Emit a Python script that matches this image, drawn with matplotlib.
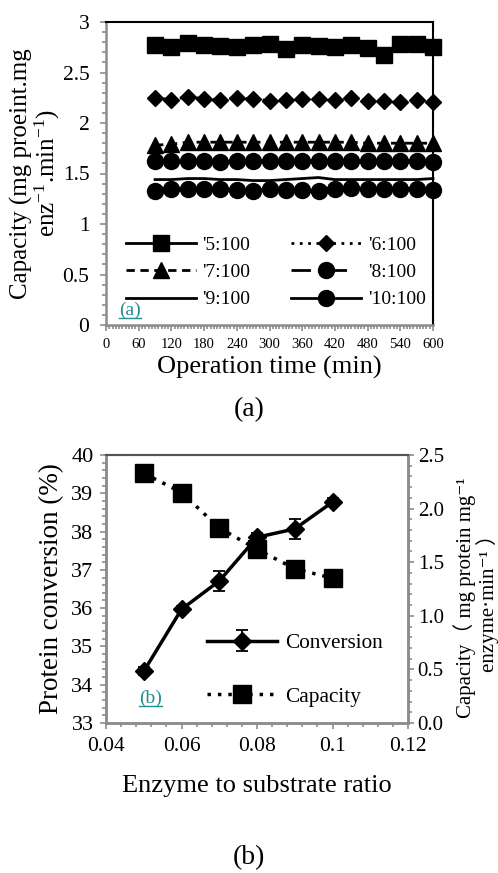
import matplotlib
matplotlib.use("Agg")
import matplotlib.pyplot as plt
from matplotlib.lines import Line2D
from matplotlib.ticker import MultipleLocator

plt.rcParams['font.family'] = ['Liberation Serif', 'Noto Sans CJK SC', 'DejaVu Sans']
plt.rcParams['mathtext.fontset'] = 'custom'
plt.rcParams['mathtext.rm'] = 'Liberation Serif'
plt.rcParams['mathtext.it'] = 'Liberation Serif:italic'
plt.rcParams['mathtext.bf'] = 'Liberation Serif:bold'

# ---------------- data (a) ----------------
time_min = [90, 120, 150, 180, 210, 240, 270, 300, 330, 360, 390, 420, 450, 480, 510, 540, 570, 600]
cap_5 = [2.77, 2.75, 2.79, 2.77, 2.76, 2.75, 2.77, 2.78, 2.73, 2.77, 2.76, 2.75, 2.77, 2.74, 2.67, 2.78, 2.78, 2.75]
cap_6 = [2.25, 2.23, 2.26, 2.24, 2.23, 2.25, 2.24, 2.22, 2.23, 2.24, 2.24, 2.23, 2.25, 2.22, 2.22, 2.21, 2.23, 2.21]
cap_7 = [1.78, 1.79, 1.81, 1.81, 1.81, 1.81, 1.81, 1.81, 1.81, 1.81, 1.81, 1.81, 1.81, 1.80, 1.80, 1.80, 1.80, 1.80]
cap_8 = [1.62, 1.62, 1.62, 1.62, 1.61, 1.62, 1.62, 1.62, 1.62, 1.62, 1.62, 1.62, 1.62, 1.62, 1.62, 1.62, 1.62, 1.61]
cap_9 = [1.44, 1.44, 1.45, 1.45, 1.44, 1.44, 1.43, 1.43, 1.44, 1.45, 1.46, 1.44, 1.44, 1.44, 1.44, 1.44, 1.44, 1.45]
cap_10 = [1.33, 1.35, 1.35, 1.35, 1.35, 1.34, 1.33, 1.35, 1.34, 1.34, 1.33, 1.35, 1.36, 1.35, 1.35, 1.35, 1.35, 1.34]
labels_a = ["'5:100", "'6:100", "'7:100", "'8:100", "'9:100", "'10:100"]
xticks_a = [0, 60, 120, 180, 240, 300, 360, 420, 480, 540, 600]
yticks_a = [0, 0.5, 1, 1.5, 2, 2.5, 3]
ytick_labels_a = ["0", "0.5", "1", "1.5", "2", "2.5", "3"]

# ---------------- data (b) ----------------
ratio = [0.05, 0.06, 0.07, 0.08, 0.09, 0.10]
conversion = [34.35, 35.97, 36.71, 37.85, 38.07, 38.77]
conversion_err = [0.10, 0.08, 0.25, 0.10, 0.26, 0.10]
capacity_b = [2.33, 2.15, 1.82, 1.62, 1.44, 1.35]
labels_b = ["Conversion", "Capacity"]
xticks_b = [0.04, 0.06, 0.08, 0.10, 0.12]
xtick_labels_b = ["0.04", "0.06", "0.08", "0.1", "0.12"]
yticks_b = [33, 34, 35, 36, 37, 38, 39, 40]
yticks_b2 = [0.0, 0.5, 1.0, 1.5, 2.0, 2.5]
ytick_labels_b2 = ["0.0", "0.5", "1.0", "1.5", "2.0", "2.5"]

W, H = 498, 873
fig = plt.figure(figsize=(W / 100, H / 100), dpi=100)
GRAY = '#8c8c8c'
TEAL = '#1f8f8f'

def px_axes(l, t, r, b):
    return fig.add_axes([l / W, 1 - b / H, (r - l) / W, (b - t) / H])

# ================= panel (a) =================
ax = px_axes(106, 22, 433, 325)
kw = dict(color='k', lw=2, clip_on=False)
h5, = ax.plot(time_min, cap_5, marker='s', ms=11.5, ls='-', **kw)
h6, = ax.plot(time_min, cap_6, marker='D', ms=8.5, ls=(0, (1, 2)), **kw)
h7, = ax.plot(time_min, cap_7, marker='^', ms=11, ls=(0, (3, 2)), **kw)
h8, = ax.plot(time_min, cap_8, marker='o', ms=11.5, ls=(0, (7, 6)), **kw)
h9, = ax.plot(time_min, cap_9, ls='-', **kw)
h10, = ax.plot(time_min, cap_10, marker='o', ms=11.5, ls='-', **kw)
ax.set_xlim(0, 600)
ax.set_ylim(0, 3)
ax.set_xticks(xticks_a)
ax.set_xticklabels([str(v) for v in xticks_a], fontsize=10.5)
ax.set_yticks(yticks_a)
ax.set_yticklabels(ytick_labels_a, fontsize=15.5)
ax.xaxis.set_minor_locator(MultipleLocator(6))
ax.yaxis.set_minor_locator(MultipleLocator(0.1))
ax.tick_params(which='both', direction='out', color=GRAY, width=1.2)
ax.tick_params(which='major', length=4)
ax.tick_params(which='minor', length=3)
ax.tick_params(axis='x', which='major', pad=5)
ax.tick_params(axis='y', which='major', pad=8)
for s in ['left', 'bottom']:
    ax.spines[s].set_color(GRAY)
    ax.spines[s].set_linewidth(1.8)
for s in ['top', 'right']:
    ax.spines[s].set_color('k')
    ax.spines[s].set_linewidth(1.5)
ax.set_ylabel("Capacity (mg proeint.mg\nenz$^{-1}$.min$^{-1}$)", fontsize=18, linespacing=1.0, labelpad=0)
ax.set_xlabel("Operation time (min)", fontsize=19, labelpad=4)
ax.legend([h5, h7, h9, h6, h8, h10],
          [labels_a[0], labels_a[2], labels_a[4], labels_a[1], labels_a[3], labels_a[5]],
          ncol=2, loc='lower left', bbox_to_anchor=(0.06, 0.055), frameon=False,
          fontsize=14, handlelength=3.6, handletextpad=0.35, columnspacing=2.1,
          labelspacing=0.5, borderpad=0, borderaxespad=0)
ta = ax.text(0.073, 0.05, "(a)", transform=ax.transAxes, color=TEAL, fontsize=14,
             ha='center', va='center')
fig.text(0.5, 1 - 410 / H, "(a)", ha='center', va='center', fontsize=20)

# ================= panel (b) =================
bx = px_axes(106, 455, 408, 723)
bx2 = bx.twinx()
hc = bx.errorbar(ratio, conversion, yerr=conversion_err, color='k', lw=2.5, marker='D',
                 ms=9, capsize=4, elinewidth=1.3, capthick=1.3, zorder=3)
hcap, = bx2.plot(ratio, capacity_b, color='k', lw=2.5, ls=(0, (1, 2)), marker='s', ms=12.5)
bx.set_xlim(0.04, 0.12)
bx.set_ylim(33, 40)
bx2.set_ylim(0, 2.5)
bx.set_xticks(xticks_b)
bx.set_xticklabels(xtick_labels_b, fontsize=15.5)
bx.set_yticks(yticks_b)
bx.set_yticklabels([str(v) for v in yticks_b], fontsize=16)
bx2.set_yticks(yticks_b2)
bx2.set_yticklabels(ytick_labels_b2, fontsize=15)
bx.xaxis.set_minor_locator(MultipleLocator(0.004))
bx.yaxis.set_minor_locator(MultipleLocator(0.2))
bx2.yaxis.set_minor_locator(MultipleLocator(0.1))
for a in (bx, bx2):
    a.tick_params(which='both', direction='out', color=GRAY, width=1.2)
    a.tick_params(which='major', length=4)
    a.tick_params(which='minor', length=3)
    for s in ['left', 'bottom', 'right']:
        a.spines[s].set_color(GRAY)
        a.spines[s].set_linewidth(1.8)
    a.spines['top'].set_color('#555555')
    a.spines['top'].set_linewidth(1.5)
bx.tick_params(axis='x', which='major', pad=6)
bx.tick_params(axis='y', which='major', pad=5)
bx2.tick_params(axis='y', which='major', pad=3)
bx.set_ylabel("Protein conversion (%)", fontsize=19.5, labelpad=5)
bx.set_xlabel("Enzyme to substrate ratio", fontsize=19, labelpad=14)
fig.text(476 / W, 1 - 598 / H, "Capacity（ mg protein mg⁻¹\nenzyme·min⁻¹ ）", fontsize=15,
         rotation=90, ha='center', va='center', multialignment='center', linespacing=1.0)
bx2.legend([hc, hcap], labels_b, loc='lower left', bbox_to_anchor=(0.335, 0.06), frameon=False,
           fontsize=15.3, handlelength=3.3, handletextpad=0.35, labelspacing=1.6,
           borderpad=0, borderaxespad=0)
tb = bx2.text(0.0517, 0.093, "(b)", transform=bx.get_xaxis_transform(),
              color=TEAL, fontsize=14, ha='center', va='center')
fig.text(0.5, 1 - 858 / H, "(b)", ha='center', va='center', fontsize=20)

# underline the panel tags
fig.canvas.draw()
inv = fig.transFigure.inverted()
for t in (ta, tb):
    bb = t.get_window_extent()
    (x0, y0), (x1, y1) = inv.transform([(bb.x0, bb.y0), (bb.x1, bb.y1)])
    fig.add_artist(Line2D([x0, x1], [y0 + 0.001, y0 + 0.001], transform=fig.transFigure,
                          color=TEAL, lw=1))

fig.savefig("out.png", dpi=100)
